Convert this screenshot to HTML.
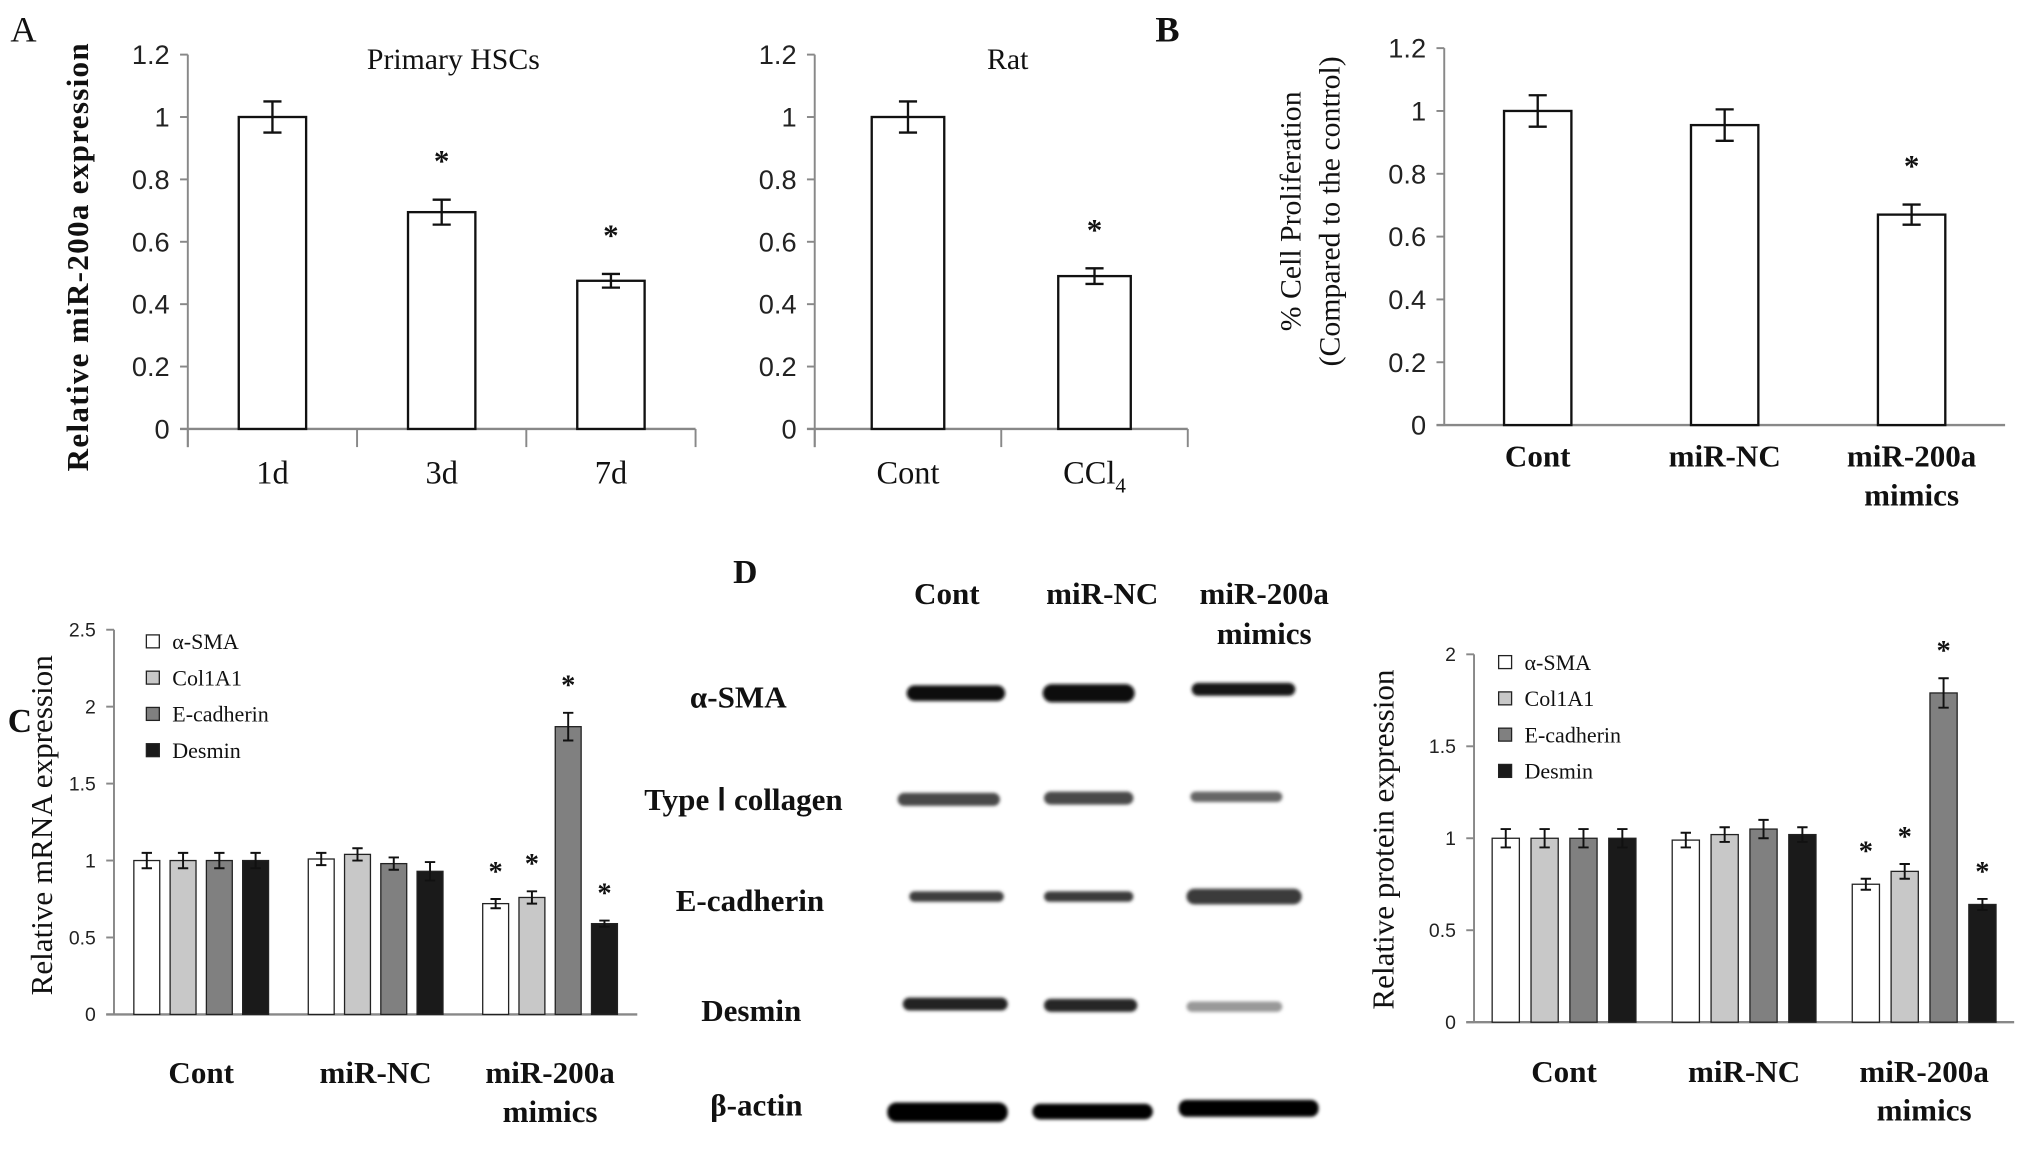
<!DOCTYPE html>
<html><head><meta charset="utf-8"><style>
html,body{margin:0;padding:0;background:#fff}
svg{display:block}
text{font-family:"Liberation Serif",serif;fill:#111}
.tk{font-family:"Liberation Sans Narrow","Liberation Sans",sans-serif;fill:#222}
</style></head><body>
<svg id="fig" width="2031" height="1161" viewBox="0 0 1568 896" xmlns="http://www.w3.org/2000/svg">
<g id="static">
<text x="8" y="32" font-size="28">A</text>
<text x="892" y="32" font-size="28" font-weight="bold">B</text>
<text x="6" y="565" font-size="26" font-weight="bold">C</text>
<text x="566" y="450" font-size="26" font-weight="bold">D</text>
<text transform="translate(68,198) rotate(-90)" text-anchor="middle" font-size="24" font-weight="bold" style="letter-spacing:1px">Relative miR-200a expression</text>
<text x="350" y="53" text-anchor="middle" font-size="23">Primary HSCs</text>
<text x="778" y="53" text-anchor="middle" font-size="23">Rat</text>
<text transform="translate(1004,163) rotate(-90)" text-anchor="middle" font-size="23">% Cell Proliferation</text>
<text transform="translate(1034,163) rotate(-90)" text-anchor="middle" font-size="23">(Compared to the control)</text>
<text transform="translate(40,637) rotate(-90)" text-anchor="middle" font-size="24">Relative mRNA expression</text>
<text transform="translate(1076,648) rotate(-90)" text-anchor="middle" font-size="24">Relative protein expression</text>
<g font-weight="bold">
<text x="731" y="466" text-anchor="middle" font-size="24">Cont</text>
<text x="851" y="466" text-anchor="middle" font-size="24">miR-NC</text>
<text x="976" y="466" text-anchor="middle" font-size="24">miR-200a</text>
<text x="976" y="497" text-anchor="middle" font-size="24">mimics</text>
<text x="570" y="546" text-anchor="middle" font-size="24">α-SMA</text>
<text x="574" y="625" text-anchor="middle" font-size="24">Type  Ⅰ  collagen</text>
<text x="579" y="703" text-anchor="middle" font-size="24">E-cadherin</text>
<text x="580" y="788" text-anchor="middle" font-size="24">Desmin</text>
<text x="584" y="861" text-anchor="middle" font-size="24">β-actin</text>
</g>
</g>
<defs><filter id="bl" x="-10%" y="-100%" width="120%" height="300%"><feGaussianBlur stdDeviation="1.2"/></filter></defs>
<g id="blot" filter="url(#bl)">
<rect x="700" y="529" width="76" height="12" rx="6" fill="#111"/>
<rect x="805" y="528" width="71" height="14" rx="7" fill="#0d0d0d"/>
<rect x="920" y="527" width="80" height="10" rx="5" fill="#151515"/>
<rect x="693" y="612" width="79" height="10" rx="5" fill="#4a4a4a"/>
<rect x="806" y="611" width="69" height="10" rx="5" fill="#4a4a4a"/>
<rect x="919" y="611" width="71" height="8" rx="4" fill="#666"/>
<rect x="702" y="688" width="73" height="8" rx="4" fill="#3e3e3e"/>
<rect x="806" y="688" width="69" height="8" rx="4" fill="#3a3a3a"/>
<rect x="916" y="686" width="89" height="12" rx="6" fill="#3a3a3a"/>
<rect x="697" y="770" width="81" height="10" rx="5" fill="#222"/>
<rect x="806" y="771" width="72" height="10" rx="5" fill="#262626"/>
<rect x="916" y="773" width="74" height="8" rx="4" fill="#999"/>
<rect x="685" y="851" width="93" height="15" rx="7" fill="#050505"/>
<rect x="797" y="852" width="93" height="12" rx="6" fill="#050505"/>
<rect x="910" y="849" width="108" height="13" rx="6" fill="#050505"/>
</g>
<g id="charts"></g>
</svg>
<script>
// ---- data ----
const aCats = ["1d","3d","7d"];
const aVals = [1.0, 0.695, 0.475];
const aErrs = [0.05, 0.04, 0.022];
const aStars = [false, true, true];
const ratCats = ["Cont","CCl4"];
const ratVals = [1.0, 0.49];
const ratErrs = [0.05, 0.025];
const ratStars = [false, true];
const bCats = ["Cont","miR-NC","miR-200a|mimics"];
const bVals = [1.0, 0.955, 0.67];
const bErrs = [0.05, 0.05, 0.032];
const bStars = [false, false, true];
const abTicks = ["0","0.2","0.4","0.6","0.8","1","1.2"];
const groupCats = ["Cont","miR-NC","miR-200a|mimics"];
const seriesNames = ["α-SMA","Col1A1","E-cadherin","Desmin"];
const seriesFills = ["#ffffff","#c8c8c8","#808080","#1a1a1a"];
const cVals = [[1.0,1.0,1.0,1.0],[1.01,1.04,0.98,0.93],[0.72,0.76,1.87,0.59]];
const cErrs = [[0.05,0.05,0.05,0.05],[0.04,0.04,0.04,0.06],[0.03,0.04,0.09,0.02]];
const cStars = [[0,0,0,0],[0,0,0,0],[1,1,1,1]];
const cTicks = ["0","0.5","1","1.5","2","2.5"];
const dVals = [[1.0,1.0,1.0,1.0],[0.99,1.02,1.05,1.02],[0.75,0.82,1.79,0.64]];
const dErrs = [[0.05,0.05,0.05,0.05],[0.04,0.04,0.05,0.04],[0.03,0.04,0.08,0.03]];
const dStars = [[0,0,0,0],[0,0,0,0],[1,1,1,1]];
const dTicks = ["0","0.5","1","1.5","2"];

const NS="http://www.w3.org/2000/svg";
const root=document.getElementById('charts');
function mk(tag,attrs,parent){const e=document.createElementNS(NS,tag);for(const k in attrs)e.setAttribute(k,attrs[k]);(parent||root).appendChild(e);return e;}

function axes(g,cfg){
  const y=v=>cfg.y0-(v/cfg.max)*(cfg.y0-cfg.y1);
  const ax=mk('line',{x1:cfg.x0,y1:cfg.y1,x2:cfg.x0,y2:cfg.y0+cfg.tickDown,stroke:'#888','stroke-width':1.5},g);
  
  
  const bx=mk('line',{x1:cfg.x0-6,y1:cfg.y0,x2:cfg.xEnd,y2:cfg.y0,stroke:'#888','stroke-width':1.8},g);
  
  
  cfg.ticks.forEach((t,i)=>{
    const v=parseFloat(t), yy=y(v);
    mk('line',{x1:cfg.x0-6,y1:yy,x2:cfg.x0,y2:yy,stroke:'#888','stroke-width':1.5},g);
    const tx=mk('text',{x:cfg.x0-14,y:yy+cfg.fs*0.35,'text-anchor':'end','font-size':cfg.fs,class:'tk'},g);
    
    
    tx.textContent=t;
  });
  const n=cfg.cats.length, w=(cfg.xEnd-cfg.x0)/n;
  for(let i=0;i<=n;i++){const xx=cfg.x0+i*w;mk('line',{x1:xx,y1:cfg.y0,x2:xx,y2:cfg.y0+cfg.tickDown,stroke:'#888','stroke-width':1.5},g);}
  cfg.cats.forEach((c,i)=>{
    const cx=cfg.x0+(i+0.5)*w;
    c.split('|').forEach((ln,j)=>{
      const tx=mk('text',{x:cx,y:cfg.labelY+j*30,'text-anchor':'middle','font-size':cfg.lfs,'font-weight':cfg.lw||'normal'},g);
      
      
      if(ln==='CCl4'){tx.textContent='CCl';const s=mk('tspan',{'font-size':cfg.lfs*0.65,dy:7},tx);s.textContent='4';}
      else tx.textContent=ln;
    });
  });
  return {y,w};
}
function errBar(g,x,yTop,yBot,cap,sw){
  const e=mk('path',{d:`M${x},${yTop}V${yBot}M${x-cap},${yTop}H${x+cap}M${x-cap},${yBot}H${x+cap}`,stroke:'#111','stroke-width':sw,fill:'none'},g);
  
  
}
function star(g,x,yy,fs){
  const s=mk('text',{x:x,y:yy,'text-anchor':'middle','font-size':fs,'font-weight':'bold'},g);
  
  
  s.textContent='*';
}
function simple(name,cfg,cats,vals,errs,stars){
  const g=mk('g',{});
  
  
  cfg.cats=cats;
  const {y,w}=axes(g,cfg);
  vals.forEach((v,i)=>{
    const cx=cfg.x0+(i+0.5)*w;
    const r=mk('rect',{x:cx-cfg.bw/2,y:y(v),width:cfg.bw,height:cfg.y0-y(v),fill:'#fff',stroke:'#111','stroke-width':1.8},g);
    
    
    errBar(g,cx,y(v+errs[i]),y(v-errs[i]),7,1.8);
    if(stars[i])star(g,cx,y(v+errs[i])-22,24);
  });
}
function grouped(name,cfg,vals,errs,stars,legend){
  const g=mk('g',{});
  
  
  cfg.cats=groupCats;
  const {y,w}=axes(g,cfg);
  vals.forEach((grp,i)=>{
    const gc=cfg.x0+(i+0.5)*w;
    grp.forEach((v,j)=>{
      const cx=gc+(j-1.5)*cfg.step;
      const r=mk('rect',{x:cx-cfg.bw/2,y:y(v),width:cfg.bw,height:cfg.y0-y(v),fill:seriesFills[j],stroke:'#222','stroke-width':1},g);
      
      
      errBar(g,cx,y(v+errs[i][j]),y(v-errs[i][j]),4,1.5);
      if(stars[i][j])star(g,cx,y(v+errs[i][j])-14,22);
    });
  });
  const lg=mk('g',{},g);
  
  
  seriesNames.forEach((n,j)=>{
    const yy=legend.y+j*28;
    const sw=mk('rect',{x:legend.x,y:yy-10,width:10,height:10,fill:seriesFills[j],stroke:'#222','stroke-width':1},lg);
    
    
    const t=mk('text',{x:legend.x+20,y:yy+1,'font-size':17},lg);
    
    
    t.textContent=n;
  });
}
simple('chart-primary-hscs',{x0:145,xEnd:537,y0:331,y1:42,max:1.2,ticks:abTicks,fs:21,lfs:25,labelY:373,tickDown:14,bw:52},aCats,aVals,aErrs,aStars);
simple('chart-rat',{x0:629,xEnd:917,y0:331,y1:42,max:1.2,ticks:abTicks,fs:21,lfs:25,labelY:373,tickDown:14,bw:56},ratCats,ratVals,ratErrs,ratStars);
simple('chart-cell-proliferation',{x0:1115,xEnd:1548,y0:328,y1:37,max:1.2,ticks:abTicks,fs:21,lfs:24,labelY:360,tickDown:0,bw:52,lw:'bold'},bCats,bVals,bErrs,bStars);
grouped('chart-mrna-expression',{x0:88,xEnd:492,y0:783,y1:486,max:2.5,ticks:cTicks,fs:15,lfs:24,labelY:836,tickDown:0,bw:20,step:28,lw:'bold'},cVals,cErrs,cStars,{x:113,y:500});
grouped('chart-protein-expression',{x0:1138,xEnd:1555,y0:789,y1:505,max:2,ticks:dTicks,fs:15,lfs:24,labelY:835,tickDown:0,bw:21,step:30,lw:'bold'},dVals,dErrs,dStars,{x:1157,y:516});
</script>
</body></html>
